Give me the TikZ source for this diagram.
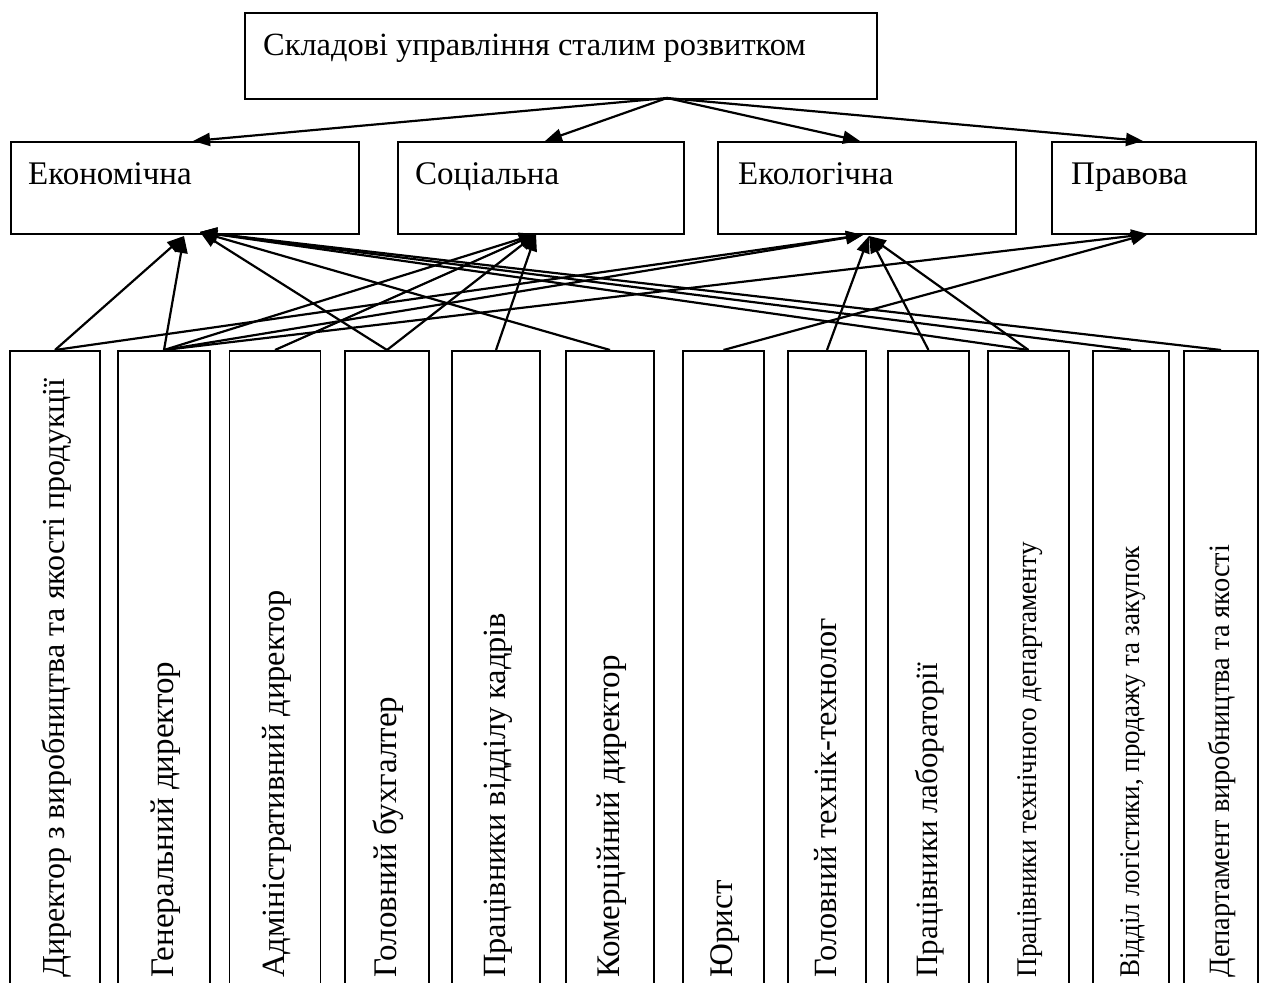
\documentclass[tikz,border=0pt]{standalone}
\usepackage{fontspec}
\setmainfont{Liberation Serif}
\usetikzlibrary{arrows.meta}
\begin{document}
\begin{tikzpicture}[x=1pt,y=-1pt,
  frame/.style={draw, line width=1.8pt, inner sep=0pt, anchor=north west},
  colbox/.style={draw, line width=1.8pt, inner sep=0pt, anchor=north, minimum height=650pt},
  lbl/.style={inner sep=0pt, anchor=base west, font=\fontsize{33}{40}\selectfont},
  vlbl/.style={inner sep=0pt, anchor=base west, rotate=90, font=\fontsize{33}{40}\selectfont},
  vsmall/.style={font=\fontsize{#1}{40}\selectfont},
  link/.style={line width=2.2pt, -{Triangle[length=17pt,width=13pt]}}]
\useasboundingbox (0,0) rectangle (1262,983);
\clip (0,0) rectangle (1262,983);
\fill[white] (0,0) rectangle (1262,983);

% top box
\node[frame, minimum width=632pt, minimum height=86pt] (top) at (244,12) {};
\node[lbl, font=\fontsize{32.4}{40}\selectfont] (toptxt) at ([shift={(19,43)}]top.north west) {Складові управління сталим розвитком};

% middle boxes
\node[frame, minimum width=348pt, minimum height=92pt] (eco) at (10,141) {};
\node[frame, minimum width=286pt, minimum height=92pt] (soc) at (397,141) {};
\node[frame, minimum width=298pt, minimum height=92pt] (ekol) at (717,141) {};
\node[frame, minimum width=204pt, minimum height=92pt] (prav) at (1051,141) {};
\node[lbl] at ([shift={(18,43)}]eco.north west) {Економічна};
\node[lbl] at ([shift={(18,43)}]soc.north west) {Соціальна};
\node[lbl] at ([shift={(21,43)}]ekol.north west) {Екологічна};
\node[lbl] at ([shift={(20,43)}]prav.north west) {Правова};

% bottom boxes
\node[colbox, minimum width=90pt] (b1) at (55,350) {};
\node[colbox, minimum width=92pt] (b2) at (164,350) {};
\node[colbox, minimum width=91pt] (b3) at (275,350) {};
\node[colbox, minimum width=84pt] (b4) at (387,350) {};
\node[colbox, minimum width=88pt] (b5) at (496,350) {};
\node[colbox, minimum width=88pt] (b6) at (610,350) {};
\node[colbox, minimum width=81pt] (b7) at (723.5,350) {};
\node[colbox, minimum width=78pt] (b8) at (827,350) {};
\node[colbox, minimum width=81pt] (b9) at (928.5,350) {};
\node[colbox, minimum width=81pt] (b10) at (1028.5,350) {};
\node[colbox, minimum width=76pt] (b11) at (1131,350) {};
\node[colbox, minimum width=74pt] (b12) at (1221,350) {};

\node[vlbl, vsmall=32] at ([shift={(9,-24)}]b1.south) {Директор з виробництва та якості продукції};
\node[vlbl] at ([shift={(9,-24)}]b2.south) {Генеральний директор};
\node[vlbl, vsmall=32.4] at ([shift={(9,-24)}]b3.south) {Адміністративний директор};
\node[vlbl] at ([shift={(9,-24)}]b4.south) {Головний бухгалтер};
\node[vlbl, vsmall=32.4] at ([shift={(9,-24)}]b5.south) {Працівники відділу кадрів};
\node[vlbl] at ([shift={(9,-24)}]b6.south) {Комерційний директор};
\node[vlbl] at ([shift={(9,-24)}]b7.south) {Юрист};
\node[vlbl, vsmall=32.4] at ([shift={(9,-24)}]b8.south) {Головний технік-технолог};
\node[vlbl, vsmall=31] at ([shift={(9,-24)}]b9.south) {Працівники лабораторії};
\node[vlbl, vsmall=28.5, xscale=0.955] at ([shift={(8,-24)}]b10.south) {Працівники технічного департаменту};
\node[vlbl, vsmall=28.5, xscale=0.947] at ([shift={(8,-24)}]b11.south) {Відділ логістики, продажу та закупок};
\node[vlbl, vsmall=29.5, xscale=0.963] at ([shift={(8,-24)}]b12.south) {Департамент виробництва та якості};

% connection points
\coordinate (src) at (667,98);
\coordinate (ecoTop) at (193,141);
\coordinate (socTop) at (545,141);
\coordinate (ekolTop) at (860,141);
\coordinate (pravTop) at (1143,141);
\coordinate (ecoA) at (184,236);
\coordinate (ecoB) at (200,232);
\coordinate (socIn) at (536,234);
\coordinate (ekolA) at (863,235);
\coordinate (ekolB) at (869,236);
\coordinate (pravIn) at (1148,234);

% top arrows
\draw[link] (src) -- (ecoTop);
\draw[link] (src) -- (socTop);
\draw[link] (src) -- (ekolTop);
\draw[link] (src) -- (pravTop);

% bottom arrows
\draw[link] (b1.north) -- (ecoA);
\draw[link] (b1.north) -- (ekolA);
\draw[link] (b2.north) -- (ecoA);
\draw[link] (b2.north) -- (socIn);
\draw[link] (b2.north) -- (ekolA);
\draw[link] (b2.north) -- (pravIn);
\draw[link] (b3.north) -- (socIn);
\draw[link] (b4.north) -- (ecoB);
\draw[link] (b4.north) -- (socIn);
\draw[link] (b5.north) -- (socIn);
\draw[link] (b6.north) -- (ecoB);
\draw[link] (b7.north) -- (pravIn);
\draw[link] (b8.north) -- (ekolB);
\draw[link] (b9.north) -- (ekolB);
\draw[link] (b10.north) -- (ekolB);
\draw[link] (b10.north) -- (ecoB);
\draw[link] (b11.north) -- (ecoB);
\draw[link] (b12.north) -- (ecoB);
\end{tikzpicture}
\end{document}
